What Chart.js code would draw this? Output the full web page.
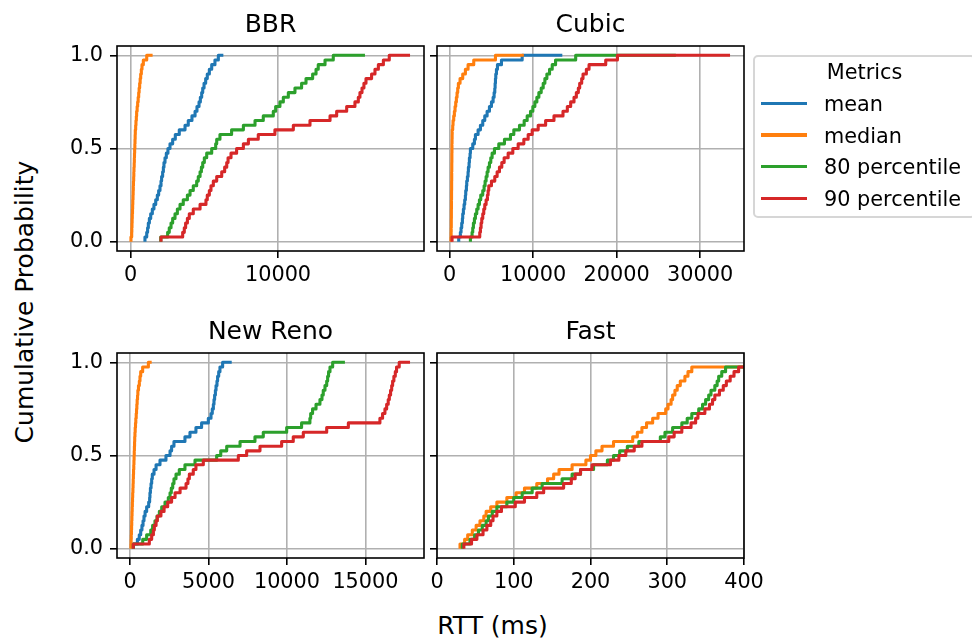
<!DOCTYPE html>
<html>
<head>
<meta charset="utf-8">
<title>RTT CDF by congestion control</title>
<script src="https://cdn.jsdelivr.net/npm/chart.js@4.4.1/dist/chart.umd.min.js"></script>
<style>
  html, body { margin: 0; background: #fff; }
  body { position: relative; width: 972px; height: 643px; overflow: hidden; font-family: 'DejaVu Sans', sans-serif; color: #000; }
  canvas { position: absolute; }
  .txt { position: absolute; white-space: nowrap; line-height: 1.2; }
  #xlabel { font-size: 25px; left: 392.5px; width: 200px; text-align: center; top: 611.4px; }
  #ylabel { font-size: 25px; left: -175.35px; top: 287px; width: 400px; height: 30px; text-align: center; transform: rotate(-90deg); }
  #legend-frame { position: absolute; left: 753px; top: 55px; width: 223px; height: 163px; border: 2px solid #d6d6d6; border-radius: 5px; box-sizing: border-box; background: #fff; }
  #legend-title { font-size: 20.8px; left: 753px; width: 223px; text-align: center; top: 59.6px; }
  .legend-swatch { position: absolute; left: 761px; width: 46px; height: 3.1px; }
  .legend-text { font-size: 20.8px; left: 824px; }
</style>
</head>
<body>
<canvas id="c-bbr" width="427" height="301" style="left:57px; top:0px;"></canvas>
<canvas id="c-cubic" width="347" height="301" style="left:417px; top:0px;"></canvas>
<canvas id="c-reno" width="427" height="301" style="left:57px; top:307px;"></canvas>
<canvas id="c-fast" width="347" height="301" style="left:417px; top:307px;"></canvas>

<div class="txt" id="ylabel">Cumulative Probability</div>
<div class="txt" id="xlabel">RTT (ms)</div>
<div id="legend-frame"></div>
<div class="txt" id="legend-title">Metrics</div>
<div id="legend-items"></div>

<script>
// cumulative probability of each sorted sample (shared by every curve)
const probLevels = [0, 0.025, 0.05, 0.075, 0.1, 0.125, 0.15, 0.175, 0.2, 0.225,
  0.25, 0.275, 0.3, 0.325, 0.35, 0.375, 0.4, 0.425, 0.45, 0.475,
  0.5, 0.525, 0.55, 0.575, 0.6, 0.625, 0.65, 0.675, 0.7, 0.725,
  0.75, 0.775, 0.8, 0.825, 0.85, 0.875, 0.9, 0.925, 0.95, 0.975, 1];

const seriesNames = ['mean', 'median', '80 percentile', '90 percentile'];
const seriesColors = ['#1f77b4', '#ff7f0e', '#2ca02c', '#d62728'];
const panelTitles = ['BBR', 'Cubic', 'New Reno', 'Fast'];

const yTicks = [0, 0.5, 1];
const bbrTicks = [0, 10000];
const cubicTicks = [0, 10000, 20000, 30000];
const renoTicks = [0, 5000, 10000, 15000];
const fastTicks = [0, 100, 200, 300, 400];
const fastRange = [0, 400];

// RTT samples (ms), sorted
const bbrMean = [970, 1090, 1150, 1200, 1270, 1360, 1470, 1580, 1700, 1810, 1900, 1990, 2060, 2100, 2170, 2220, 2260, 2330, 2420, 2530,
  2670, 2850, 3030, 3300, 3690, 3910, 4160, 4370, 4500, 4640, 4730, 4820, 4890, 4980, 5090, 5200, 5340, 5500, 5720, 5950, 6290];
const bbrMedian = [20, 70, 80, 90, 100, 110, 125, 135, 145, 160, 170, 180, 190, 205, 215, 225, 240, 250, 260, 270,
  285, 295, 305, 315, 340, 360, 385, 405, 440, 475, 510, 545, 575, 610, 645, 680, 725, 770, 860, 1090, 1490];
const bbrP80 = [2040, 2510, 2620, 2740, 2850, 3010, 3170, 3350, 3570, 3850, 4030, 4250, 4480, 4590, 4710, 4800, 4890, 5000, 5160, 5500,
  5770, 5840, 6060, 6850, 7650, 8440, 9000, 9680, 9840, 10130, 10360, 10700, 11150, 11600, 11900, 12350, 12580, 12730, 13190, 13750, 15900];
const bbrP90 = [2060, 3530, 3640, 3730, 3850, 3980, 4250, 4710, 5110, 5200, 5340, 5450, 5610, 5840, 6180, 6380, 6520, 6610, 6810, 7190,
  7650, 7990, 8660, 9790, 11040, 12170, 13530, 13980, 14660, 15220, 15450, 15560, 15700, 15830, 15970, 16350, 16580, 16810, 17150, 17550, 18960];

const cubicMean = [1080, 1280, 1360, 1440, 1520, 1560, 1640, 1720, 1800, 1880, 1920, 2000, 2040, 2120, 2200, 2240, 2320, 2360, 2440, 2480,
  2760, 2960, 3080, 3400, 3680, 3960, 4200, 4480, 4760, 5000, 5200, 5320, 5400, 5440, 5480, 5520, 5600, 5720, 6200, 8680, 13490];
const cubicMedian = [150, 170, 180, 190, 190, 200, 200, 210, 210, 220, 220, 230, 230, 240, 240, 250, 250, 260, 260, 270,
  270, 280, 290, 300, 360, 400, 480, 560, 640, 720, 800, 880, 960, 1040, 1240, 1560, 1880, 2200, 2880, 5480, 8880];
const cubicP80 = [2480, 2680, 2760, 2840, 2960, 3080, 3240, 3400, 3560, 3720, 3960, 4120, 4240, 4360, 4480, 4600, 4760, 4920, 5080, 5360,
  5880, 6560, 7280, 7680, 8360, 8920, 9280, 9680, 9960, 10200, 10440, 10680, 10960, 11200, 11400, 11640, 11960, 12280, 12680, 15090, 27090];
const cubicP90 = [280, 3600, 3680, 3760, 3840, 3960, 4080, 4200, 4360, 4520, 4600, 4680, 5000, 5400, 5680, 5960, 6240, 6520, 7000, 7560,
  8200, 8880, 9400, 9880, 10600, 11490, 12490, 13570, 14090, 14490, 14890, 15170, 15410, 15570, 15810, 15970, 16370, 16690, 18690, 20090, 33580];

const renoMean = [210, 470, 590, 680, 760, 830, 890, 960, 1060, 1190, 1250, 1270, 1300, 1340, 1380, 1420, 1530, 1660, 1910, 2290,
  2550, 2650, 2800, 3500, 3820, 4200, 4560, 4990, 5160, 5240, 5310, 5350, 5390, 5440, 5480, 5540, 5580, 5650, 5730, 5900, 6480];
const renoMedian = [60, 70, 80, 90, 100, 110, 120, 130, 140, 150, 160, 170, 185, 195, 205, 215, 225, 240, 250, 260,
  270, 280, 290, 300, 315, 330, 350, 370, 395, 415, 435, 455, 480, 500, 540, 595, 635, 680, 805, 1170, 1380];
const renoP80 = [210, 810, 1060, 1320, 1440, 1590, 1720, 1870, 2020, 2230, 2440, 2550, 2630, 2720, 2800, 2930, 3140, 3500, 4140, 5520,
  5780, 6160, 7010, 7960, 8490, 9980, 10930, 11460, 11510, 11630, 11850, 12100, 12230, 12310, 12420, 12530, 12590, 12650, 12740, 12910, 13690];
const renoP90 = [210, 1230, 1380, 1490, 1550, 1660, 1740, 1970, 2170, 2400, 2650, 2870, 3190, 3570, 3690, 3780, 4030, 4200, 4670, 6900,
  7430, 8280, 9660, 10400, 11040, 12530, 13910, 15920, 16090, 16240, 16350, 16450, 16520, 16600, 16670, 16730, 16810, 16900, 16980, 17150, 17840];

const fastMedian = [30, 36, 40, 46, 51, 56, 61, 64, 70, 78, 91, 103, 114, 130, 144, 152, 159, 176, 194, 200,
  207, 215, 230, 255, 261, 267, 273, 281, 288, 298, 301, 305, 307, 310, 313, 317, 323, 327, 332, 436, 512];
const fastP80 = [33, 43, 49, 54, 59, 64, 67, 72, 78, 91, 100, 111, 124, 137, 163, 176, 187, 204, 222, 230,
  238, 248, 263, 291, 297, 307, 319, 326, 332, 341, 346, 350, 354, 357, 362, 365, 367, 371, 376, 441, 530];
const fastP90 = [35, 45, 52, 60, 65, 70, 73, 78, 84, 102, 114, 130, 139, 165, 175, 180, 187, 202, 226, 237,
  246, 257, 267, 302, 309, 319, 331, 337, 340, 349, 355, 359, 362, 368, 373, 377, 382, 387, 393, 447, 548];

Chart.defaults.font.family = "'DejaVu Sans', sans-serif";
Chart.defaults.font.size = 20.8;
Chart.defaults.color = '#000';

// matplotlib-style autoscale: data limits plus 5% margin on each side
function paddedRange(values) {
  const lo = Math.min(...values);
  const hi = Math.max(...values);
  const m = (hi - lo) * 0.05;
  return [lo - m, hi + m];
}

// closed box around the plot area
const framePlugin = {
  id: 'frame',
  afterDatasetsDraw(chart) {
    const { ctx, chartArea: a } = chart;
    ctx.save();
    ctx.strokeStyle = '#000';
    ctx.lineWidth = 1.6;
    ctx.strokeRect(a.left, a.top, a.right - a.left, a.bottom - a.top);
    ctx.restore();
  }
};

const gridStyle = {
  color: '#b0b0b0',
  lineWidth: 1.6,
  drawTicks: true,
  tickLength: 7,
  tickColor: '#000',
  tickWidth: 1.6
};

function drawPanel(canvasId, title, seriesList, xTicks, xRange, showYLabels) {
  const sidePad = showYLabels ? 60 : 20;
  const datasets = [];
  seriesList.forEach((xs, i) => {
    if (!xs) return;
    datasets.push({
      label: seriesNames[i],
      data: xs.map((x, k) => ({ x: x, y: probLevels[k] })),
      borderColor: seriesColors[i],
      backgroundColor: seriesColors[i],
      borderWidth: 3.1,
      borderJoinStyle: 'round',
      // rise at the previous sample, then run flat to the next one
      stepped: 'after',
      pointRadius: 0,
      fill: false,
      order: seriesNames.length - i
    });
  });

  const xLim = xRange || paddedRange(seriesList.filter(Boolean).flat());
  const yLim = paddedRange(probLevels);

  return new Chart(document.getElementById(canvasId), {
    type: 'line',
    data: { datasets: datasets },
    options: {
      responsive: false,
      animation: false,
      events: [],
      layout: { padding: { left: 0, right: sidePad, top: 0, bottom: 0 } },
      plugins: {
        legend: { display: false },
        tooltip: { enabled: false },
        title: {
          display: true,
          fullSize: false,
          text: title,
          color: '#000',
          font: { size: 25, weight: 'normal' },
          padding: { top: 10, bottom: 6 }
        }
      },
      scales: {
        x: {
          type: 'linear',
          min: xLim[0],
          max: xLim[1],
          afterBuildTicks: (s) => { s.ticks = xTicks.map(v => ({ value: v })); },
          afterFit: (s) => { s.height = 50; s.paddingLeft = 0; s.paddingRight = 0; },
          grid: gridStyle,
          border: { display: false },
          ticks: { padding: 5, maxRotation: 0, autoSkip: false, callback: (v) => String(v) }
        },
        y: {
          type: 'linear',
          min: yLim[0],
          max: yLim[1],
          afterBuildTicks: (s) => { s.ticks = yTicks.map(v => ({ value: v })); },
          afterFit: (s) => { s.width = sidePad; },
          grid: gridStyle,
          border: { display: false },
          ticks: { display: showYLabels, padding: 7, autoSkip: false, callback: (v) => v.toFixed(1) }
        }
      }
    },
    plugins: [framePlugin]
  });
}

drawPanel('c-bbr', panelTitles[0], [bbrMean, bbrMedian, bbrP80, bbrP90], bbrTicks, null, true);
drawPanel('c-cubic', panelTitles[1], [cubicMean, cubicMedian, cubicP80, cubicP90], cubicTicks, null, false);
drawPanel('c-reno', panelTitles[2], [renoMean, renoMedian, renoP80, renoP90], renoTicks, null, true);
drawPanel('c-fast', panelTitles[3], [null, fastMedian, fastP80, fastP90], fastTicks, fastRange, false);

// figure legend, one row per metric
const legendItems = document.getElementById('legend-items');
seriesNames.forEach((name, i) => {
  const swatch = document.createElement('div');
  swatch.className = 'legend-swatch';
  swatch.style.top = (101.75 + i * 31.7) + 'px';
  swatch.style.background = seriesColors[i];
  legendItems.appendChild(swatch);

  const text = document.createElement('div');
  text.className = 'txt legend-text';
  text.style.top = (92 + i * 31.7) + 'px';
  text.textContent = name;
  legendItems.appendChild(text);
});
</script>
</body>
</html>
